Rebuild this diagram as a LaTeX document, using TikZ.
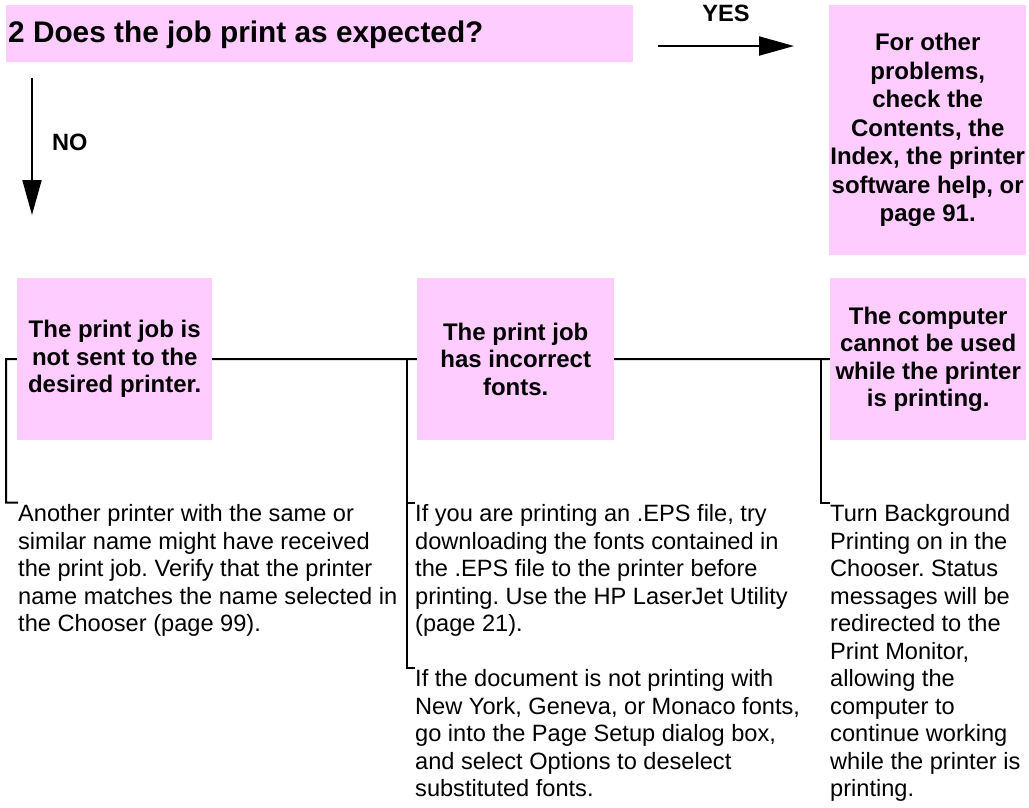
\documentclass[tikz,border=0pt]{standalone}
\usepackage{fontspec}
\setmainfont{Liberation Sans}
\usepackage{tikz}
\usetikzlibrary{arrows.meta, positioning, backgrounds}
\definecolor{notepink}{RGB}{255,204,255}
\frenchspacing

\begin{document}
\begin{tikzpicture}[x=1pt, y=-1pt,
  pinkbox/.style={fill=notepink, inner sep=0pt, anchor=north west, align=center,
    font=\fontsize{24}{27.5}\selectfont\bfseries},
  bodytext/.style={anchor=north west, inner sep=0pt, align=left,
    font=\fontsize{23.6}{27.5}\selectfont},
  answer/.style={inner sep=0pt, font=\fontsize{23.6}{27.5}\selectfont\bfseries},
  wire/.style={line width=2pt},
  arr/.style={line width=2pt, -{Triangle[length=35pt, width=19pt]}}]

  \useasboundingbox (0,0) rectangle (1029,808);

  % Question
  \node[fill=notepink, inner sep=0pt, anchor=north west, minimum width=627pt, minimum height=57pt] (qbox) at (6,5) {};
  \node[anchor=base west, inner sep=0pt, font=\fontsize{29.8}{34}\selectfont\bfseries] (q) at (8,43) {2 Does the job print as expected?};

  % YES branch
  \node[pinkbox, minimum width=197pt, minimum height=250pt, font=\fontsize{24}{28.5}\selectfont\bfseries] (other) at (829,5)
    {For other\\problems,\\check the\\Contents, the\\Index, the printer\\software help, or\\page 91.};
  \coordinate (yes0) at (658,46);
  \coordinate (yes1) at (794,46);
  \draw[arr] (yes0) -- (yes1);
  \node[answer, anchor=base] (yes) at (726,22) {YES};

  % NO branch
  \coordinate (no0) at (32,78);
  \coordinate (no1) at (32,215);
  \draw[arr] (no0) -- (no1);
  \node[answer, anchor=base west] (no) at (52,150) {NO};

  % Problems
  \node[pinkbox, minimum width=195pt, minimum height=162pt] (sent) at (17,278)
    {The print job is\\not sent to the\\desired printer.};
  \node[pinkbox, minimum width=197pt, minimum height=162pt] (fonts) at (417,278)
    {The print job\\has incorrect\\fonts.};
  \node[pinkbox, minimum width=196pt, minimum height=162pt] (busy) at (830,278)
    {The computer\\cannot be used\\while the printer\\is printing.};

  % Solutions
  \node[bodytext] (chooser) at (18,502.5)
    {\strut Another printer with the same or\\similar name might have received\\the print job. Verify that the printer\\name matches the name selected in\\the Chooser (page 99).};
  \node[bodytext] (eps) at (415,502.5)
    {\strut If you are printing an .EPS file, try\\downloading the fonts contained in\\the .EPS file to the printer before\\printing. Use the HP LaserJet Utility\\(page 21).};
  \node[bodytext] (setup) at (415,667.5)
    {\strut If the document is not printing with\\New York, Geneva, or Monaco fonts,\\go into the Page Setup dialog box,\\and select Options to deselect\\substituted fonts.};
  \node[bodytext] (backgr) at (830,502.5)
    {\strut Turn Background\\Printing on in the\\Chooser. Status\\messages will be\\redirected to the\\Print Monitor,\\allowing the\\computer to\\continue working\\while the printer is\\printing.};

  % Connectors behind the boxes
  \coordinate (bus0) at (6,359);
  \coordinate (bus1) at (407,359);
  \coordinate (bus2) at (821,359);
  \begin{scope}[on background layer]
    \draw[wire] (chooser.north west) -| (bus0) -- (busy.west);
    \draw[wire] (bus1) |- (setup.north west);
    \draw[wire] (bus1 |- eps.north west) -- (eps.north west);
    \draw[wire] (bus2) |- (backgr.north west);
  \end{scope}

\end{tikzpicture}
\end{document}
